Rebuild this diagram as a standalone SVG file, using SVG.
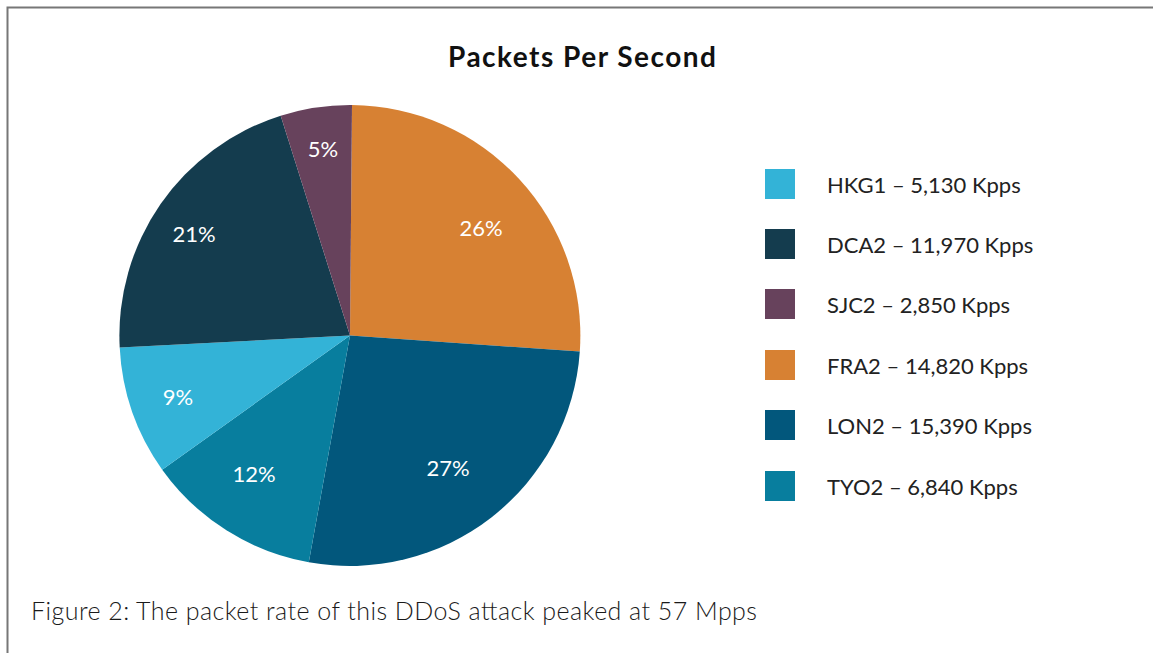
<svg xmlns="http://www.w3.org/2000/svg" width="1153" height="653" viewBox="0 0 1153 653">
  <style>
    .title { font-family: Lato, "Noto Sans", sans-serif; font-weight: 700; font-size: 28px; fill: #111; }
    .pct { font-family: Lato, "Noto Sans", sans-serif; font-size: 22px; fill: #fff; text-anchor: middle; }
    .leg { font-family: Lato, "Noto Sans", sans-serif; font-size: 22px; fill: #222; }
    .cap { font-family: Lato, "Noto Sans", sans-serif; font-weight: 300; font-size: 25px; fill: #1a1a1a; }
    .sw { stroke: none; }
  </style>
  <rect width="1153" height="653" fill="#fff"/>
  <!-- frame: top and left rules -->
  <path d="M7.5 653 V7.5 H1153" fill="none" stroke="#777" stroke-width="2"/>

  <text class="title" x="448" y="67" textLength="268" lengthAdjust="spacing">Packets Per Second</text>

  <!-- pie: centre (350,335.5), r 230.5, clockwise from 12 o'clock -->
  <g id="pie">
    <g id="slice-fra2"><path d="M350 335.5 L352.0 105.0 A230.5 230.5 0 0 1 579.8 351.5 Z" fill="#D78133"/></g>
    <g id="slice-lon2"><path d="M350 335.5 L579.8 351.5 A230.5 230.5 0 0 1 308.8 562.3 Z" fill="#02577C"/></g>
    <g id="slice-tyo2"><path d="M350 335.5 L308.8 562.3 A230.5 230.5 0 0 1 162.2 469.7 Z" fill="#087E9E"/></g>
    <g id="slice-hkg1"><path d="M350 335.5 L162.2 469.7 A230.5 230.5 0 0 1 119.7 347.5 Z" fill="#33B3D7"/></g>
    <g id="slice-dca2"><path d="M350 335.5 L119.7 347.5 A230.5 230.5 0 0 1 280.7 115.7 Z" fill="#143C4E"/></g>
    <g id="slice-sjc2"><path d="M350 335.5 L280.7 115.7 A230.5 230.5 0 0 1 352.0 105.0 Z" fill="#67425C"/></g>
  </g>

  <g id="pie-labels">
    <text class="pct" x="481" y="236">26%</text>
    <text class="pct" x="448" y="476">27%</text>
    <text class="pct" x="254" y="482">12%</text>
    <text class="pct" x="178" y="405">9%</text>
    <text class="pct" x="194" y="242">21%</text>
    <text class="pct" x="323" y="157">5%</text>
  </g>

  <g id="legend">
    <g id="leg-hkg1"><rect class="sw" x="765" y="169" width="30" height="30" fill="#33B3D7"/><text class="leg" x="827" y="193">HKG1 – 5,130 Kpps</text></g>
    <g id="leg-dca2"><rect class="sw" x="765" y="229" width="30" height="30" fill="#143C4E"/><text class="leg" x="827" y="253">DCA2 – 11,970 Kpps</text></g>
    <g id="leg-sjc2"><rect class="sw" x="765" y="289" width="30" height="30" fill="#67425C"/><text class="leg" x="827" y="313">SJC2 – 2,850 Kpps</text></g>
    <g id="leg-fra2"><rect class="sw" x="765" y="350" width="30" height="30" fill="#D78133"/><text class="leg" x="827" y="374">FRA2 – 14,820 Kpps</text></g>
    <g id="leg-lon2"><rect class="sw" x="765" y="410" width="30" height="30" fill="#02577C"/><text class="leg" x="827" y="434">LON2 – 15,390 Kpps</text></g>
    <g id="leg-tyo2"><rect class="sw" x="765" y="471" width="30" height="30" fill="#087E9E"/><text class="leg" x="827" y="495">TYO2 – 6,840 Kpps</text></g>
  </g>

  <text class="cap" x="31" y="620" textLength="726" lengthAdjust="spacing">Figure 2: The packet rate of this DDoS attack peaked at 57 Mpps</text>
</svg>
